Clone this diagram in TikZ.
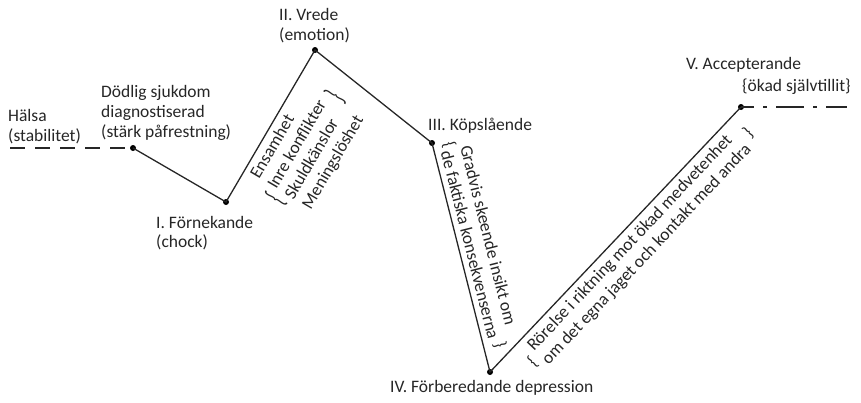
\documentclass[tikz,border=0pt]{standalone}
\usepackage{fontspec}
\setmainfont{Carlito}
\begin{document}
\begin{tikzpicture}[x=1pt, y=-1pt,
  txt/.style={inner sep=0pt, text=black!85, font=\fontsize{17.5}{20}\selectfont},
  lbl/.style={txt, anchor=base west},
  brc/.style={txt, anchor=center},
  dot/.style={circle, fill=black, inner sep=0pt, minimum size=6pt},
  curve/.style={line width=1.3pt, draw=black!85},
  before/.style={curve, dash pattern=on 15pt off 10pt},
  after/.style={curve, dash pattern=on 28pt off 9pt on 4pt off 9pt, dash phase=15pt}]
\useasboundingbox (0,0) rectangle (861,402);

% turning points of the curve
\node[dot] (p0) at (133,148) {};
\node[dot] (p1) at (226,202) {};
\node[dot] (p2) at (315,50) {};
\node[dot] (p3) at (432,143) {};
\node[dot] (p4) at (490,372) {};
\node[dot] (p5) at (741,107) {};
\coordinate (h0) at (10,148);
\coordinate (e0) at (847,107);

\draw[before] (h0) -- (p0.center);
\draw[curve] (p0.center) -- (p1.center) -- (p2.center) -- (p3.center) -- (p4.center) -- (p5.center);
\draw[after] (p5.center) -- (e0);

% stage labels
\node[lbl] (t0a) at (8,121) {Hälsa};
\node[lbl] (t0b) at (8,141) {(stabilitet)};
\node[lbl] (t1a) at (101,97) {Dödlig sjukdom};
\node[lbl] (t1b) at (101,117) {diagnostiserad};
\node[lbl] (t1c) at (101,137) {(stärk påfrestning)};
\node[lbl] (t2a) at (156,228) {I. Förnekande};
\node[lbl] (t2b) at (156,247) {(chock)};
\node[lbl] (t3a) at (279,20) {II. Vrede};
\node[lbl] (t3b) at (279,40) {(emotion)};
\node[lbl] (t4a) at (428,130) {III. Köpslående};
\node[lbl] (t5a) at (390,392) {IV. Förberedande depression};
\node[lbl] (t6a) at (686,69) {V. Accepterande};
\node[lbl] (t6b) at (742,91) {\{ökad självtillit\}};

% notes along the rising line after denial
\begin{scope}[shift={(259,180)}, rotate=59.65, transform shape]
  \node[lbl] (a1) at (0,0) {Ensamhet};
  \node[lbl] (a2) at (0,20) {Inre konflikter};
  \node[lbl] (a3) at (0,40) {Skuldkänslor};
  \node[lbl] (a4) at (0,60) {Meningslöshet};
  \node[brc] (al) at (-8,24) {\scalebox{1}[1.7]{\{}};
  \node[brc] (ar) at (110,24) {\scalebox{1}[1.7]{\}}};
\end{scope}

% notes along the fall into depression
\begin{scope}[shift={(460,147)}, rotate=-75.8, transform shape]
  \node[lbl] (b1) at (0,0) {Gradvis skeende insikt om};
  \node[lbl] (b2) at (0,20) {de faktiska konsekvenserna};
  \node[brc] (bl) at (-5,10) {\{};
  \node[brc] (br) at (202,10) {\}};
\end{scope}

% notes along the rise towards acceptance
\begin{scope}[shift={(534,352)}, rotate=46.7, transform shape]
  \node[lbl] (c1) at (0,0) {Rörelse i riktning mot ökad medvetenhet};
  \node[lbl] (c2) at (0,20) {om det egna jaget och kontakt med andra};
  \node[brc] (cl) at (-8,6) {\{};
  \node[brc] (cr) at (306,6) {\}};
\end{scope}
\end{tikzpicture}
\end{document}
